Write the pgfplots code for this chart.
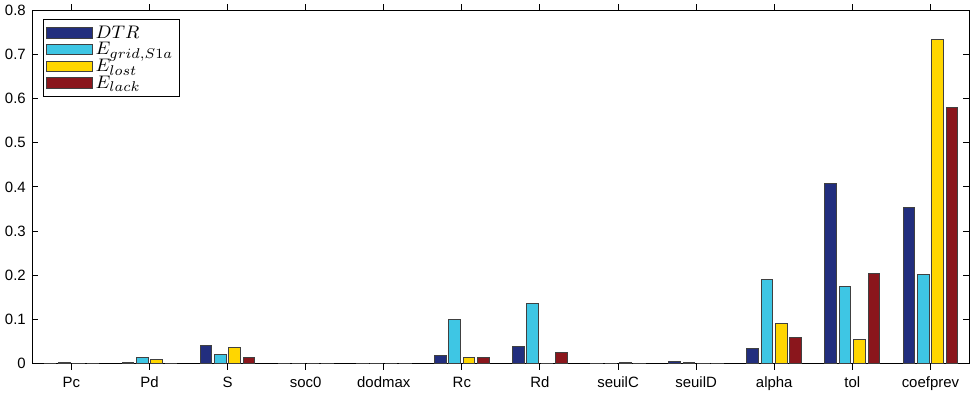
\documentclass[border=0pt]{standalone}
\usepackage{fontspec}
\setmainfont{Liberation Sans}
\usepackage{pgfplots}
\pgfplotsset{compat=1.18}
\definecolor{cDTR}{RGB}{34,46,126}
\definecolor{cGrid}{RGB}{62,198,228}
\definecolor{cLost}{RGB}{255,214,0}
\definecolor{cLack}{RGB}{138,22,28}
\begin{document}
\fontsize{7.4}{9}\selectfont
\begin{tikzpicture}
\begin{axis}[
  scale only axis, width=464pt, height=175pt,
  xmin=-0.5, xmax=11.5, ymin=0, ymax=0.8,
  xtick={0,1,2,3,4,5,6,7,8,9,10,11},
  xticklabels={Pc,Pd,S,soc0,dodmax,Rc,Rd,seuilC,seuilD,alpha,tol,coefprev},
  ytick={0,0.1,0.2,0.3,0.4,0.5,0.6,0.7,0.8},
  yticklabel style={/pgf/number format/fixed,/pgf/number format/precision=1, xshift=-0.6pt},
  /pgf/number format/assume math mode=true,
  tick align=inside, xtick pos=both, ytick pos=both,
  major tick length=3pt,
  tick style={black, line width=0.5pt},
  axis line style={black, line width=0.5pt},
  ticklabel style={font=\fontsize{7.4}{9}\selectfont},
  xticklabel style={yshift=-1pt},
  ybar, bar width=0.149,
  every axis plot/.append style={draw=black!75, line width=0.5pt},
  legend cell align=left,
  legend image code/.code={\draw[#1] (0pt,-2.6pt) rectangle (22.5pt,2.6pt);},
  legend style={at={(0.011,0.975)}, anchor=north west, draw=black, line width=0.5pt,
    font=\fontsize{9.3}{9}\selectfont, row sep=-2.6pt, inner xsep=1.5pt, inner ysep=1.2pt,
    /tikz/every even column/.append style={column sep=1pt},
    nodes={inner xsep=1.5pt, inner ysep=1.8pt}},
]
\addplot[fill=cDTR, bar shift=-0.276] coordinates {
 (0,0.0015) (1,0.003) (2,0.041) (3,0.0008) (4,0.0008) (5,0.019) (6,0.0396) (7,0.001) (8,0.005) (9,0.0335) (10,0.4076) (11,0.3535)};
\addplot[fill=cGrid, bar shift=-0.092] coordinates {
 (0,0.002) (1,0.013) (2,0.021) (3,0.0008) (4,0.0008) (5,0.099) (6,0.137) (7,0.001) (8,0.002) (9,0.191) (10,0.1737) (11,0.2027)};
\addplot[fill=cLost, bar shift=0.092] coordinates {
 (0,0.0005) (1,0.0084) (2,0.036) (3,0.0008) (4,0.0008) (5,0.0145) (6,0.001) (7,0.002) (8,0.001) (9,0.0914) (10,0.0556) (11,0.733)};
\addplot[fill=cLack, bar shift=0.276] coordinates {
 (0,0.0005) (1,0.0015) (2,0.015) (3,0.0008) (4,0.0008) (5,0.0145) (6,0.026) (7,0.001) (8,0.001) (9,0.0587) (10,0.205) (11,0.58)};
\legend{$DTR$,$E_{grid,S1a}$,$E_{lost}$,$E_{lack}$}
\end{axis}
\path (current bounding box.east) +(2.5pt,0) coordinate (r);
\useasboundingbox (current bounding box.south west) rectangle (current bounding box.north east -| r);
\end{tikzpicture}
\end{document}
